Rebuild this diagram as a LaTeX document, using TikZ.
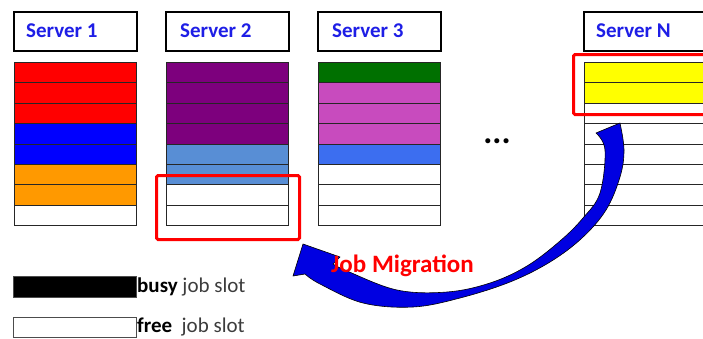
\documentclass[tikz,border=0pt]{standalone}
\usepackage{fontspec}
\setmainfont{Carlito}
\definecolor{srvblue}{RGB}{30,30,230}
\definecolor{cred}{RGB}{255,0,0}
\definecolor{cblue}{RGB}{0,0,255}
\definecolor{corange}{RGB}{255,153,0}
\definecolor{cpurple}{RGB}{125,0,125}
\definecolor{clblue}{RGB}{88,142,213}
\definecolor{cgreen}{RGB}{0,112,0}
\definecolor{cmagenta}{RGB}{200,75,190}
\definecolor{cdblue}{RGB}{60,110,240}
\definecolor{cyellow}{RGB}{255,255,0}
\definecolor{arrowblue}{RGB}{0,0,225}
\definecolor{txtgray}{RGB}{60,60,60}
\begin{document}
\begin{tikzpicture}[x=1pt,y=-1pt,
  hdr/.style={draw=black, line width=1.6pt, fill=white, minimum width=123pt, minimum height=39pt, anchor=north west, inner sep=0pt},
  slot/.style={draw=black!85, line width=0.8pt, minimum width=122pt, minimum height=20.375pt, anchor=north west, inner sep=0pt},
  lbl/.style={text=srvblue, font=\fontsize{21}{24}\selectfont\bfseries, anchor=west, inner sep=0pt},
  sel/.style={draw=red, line width=3pt, rounded corners=1.5pt, anchor=north west, inner sep=0pt},
  migarrow/.style={fill=arrowblue, draw=black, line width=0.6pt, line join=round},
  legtxt/.style={font=\fontsize{21}{24}\selectfont, text=txtgray, anchor=west, inner sep=0pt}]
\useasboundingbox (0,0) rectangle (703,338);
\clip (0,0) rectangle (703,338);
% headers
\node[hdr] (h1) at (13,11) {};
\node[hdr] (h2) at (165,11) {};
\node[hdr] (h3) at (317,11) {};
\node[hdr] (hN) at (583,11) {};
\node[lbl] (t1) at (26,31) {Server 1};
\node[lbl] (t2) at (180,31) {Server 2};
\node[lbl] (t3) at (332,31) {Server 3};
\node[lbl] (tN) at (596,31) {Server N};
% slots
\foreach \c [count=\i] in {cred,cred,cred,cblue,cblue,corange,corange,white}
  \node[slot, fill=\c] (sa-\i) at (14,{62+(\i-1)*20.375}) {};
\foreach \c [count=\i] in {cpurple,cpurple,cpurple,cpurple,clblue,clblue,white,white}
  \node[slot, fill=\c] (sb-\i) at (166,{62+(\i-1)*20.375}) {};
\foreach \c [count=\i] in {cgreen,cmagenta,cmagenta,cmagenta,cdblue,white,white,white}
  \node[slot, fill=\c] (sc-\i) at (318,{62+(\i-1)*20.375}) {};
\foreach \c [count=\i] in {cyellow,cyellow,white,white,white,white,white,white}
  \node[slot, fill=\c] (sn-\i) at (584,{62+(\i-1)*20.375}) {};
% dots
\node[font=\fontsize{34}{38}\selectfont\bfseries, anchor=base, inner sep=0pt] (dots) at (497,143) {...};
% selections
\node[sel, minimum width=143pt, minimum height=64pt] (sel2) at (155,174) {};
\node[sel, minimum width=150pt, minimum height=60pt] (selN) at (572,53) {};
% migration arrow
\filldraw[migarrow] plot[smooth, tension=0.6] coordinates {(620,123) (624,150) (620,177) (606,210) (582,238) (550,262) (510,282) (460,298) (413,307) (363,303) (320,284) (305,274)}
  -- (293,276) -- (303,244) -- (340,257)
  -- plot[smooth, tension=0.6] coordinates {(333,264) (347,271) (397,290) (447,292) (490,283) (527,266) (560,241) (583,218) (600,193) (605,150) (596,133)} -- cycle;
\node[font=\fontsize{25}{28}\selectfont\bfseries, text=red, anchor=base west, inner sep=0pt] (jm) at (331,272) {Job Migration};
% legend
\node[draw=black!70, fill=black, line width=0.8pt, minimum width=123pt, minimum height=21pt, anchor=north west, inner sep=0pt] (busy) at (13,276) {};
\node[draw=black!70, fill=white, line width=1pt, minimum width=123pt, minimum height=20pt, anchor=north west, inner sep=0pt] (free) at (13,317) {};
\node[legtxt] (busyt) at (137,287) {\textbf{\color{black}busy} job slot};
\node[legtxt] (freet) at (137,327) {\textbf{\color{black}free}\ \ job slot};
\end{tikzpicture}
\end{document}
